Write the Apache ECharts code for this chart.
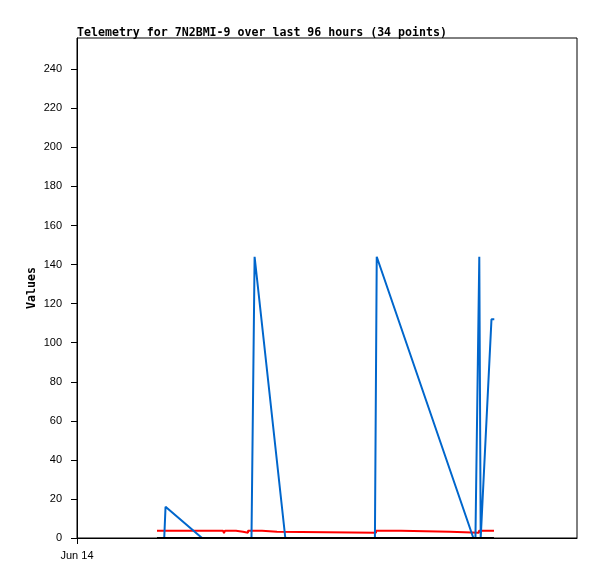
<!DOCTYPE html>
<html>
<head>
<meta charset="utf-8">
<script src="https://cdn.jsdelivr.net/npm/echarts@6/dist/echarts.min.js"></script>
<style>html,body{margin:0;padding:0;background:#fff;}#c{width:597px;height:579px;}</style>
</head>
<body>
<div id="c"></div>
<script>
// x values are hours since the start of the 96-hour window
var titleText = 'Telemetry for 7N2BMI-9 over last 96 hours (34 points)';
var xTickLabels = ['Jun 14'];
var yTicks = [0, 20, 40, 60, 80, 100, 120, 140, 160, 180, 200, 220, 240];

var blueHours  = [15.36, 16.75, 17.0, 24.0, 33.5, 34.1, 40.0, 57.2, 57.55, 76.1, 76.5, 77.24, 77.51, 77.66, 79.58, 80.12];
var blueValues = [0,     0,     16,   0,    0,    144,  0,    0,    144,   0,    0,    144,   0,     0,     112,   112];

// red readings: each value holds until the next reading
var redHours  = [15.36, 28.03, 28.22, 28.42, 30.53, 31.87, 32.83, 35.52, 38.4, 57.41, 62.21, 71.62, 77.18, 80.06];
var redValues = [3.74,  3.74,  2.56,  3.74,  3.2,   2.7,   3.74,  3.2,   2.7,  3.74,  3.2,   2.7,   3.74,  3.74];

var blackHours  = [15.36, 80.06];
var blackValues = [0,     0];

function pairs(xs, ys) { return xs.map(function (x, i) { return [x, ys[i]]; }); }
function holdPairs(xs, ys) {
  var out = [];
  for (var i = 0; i < xs.length; i++) {
    if (i > 0) out.push([xs[i], ys[i - 1]]);
    out.push([xs[i], ys[i]]);
  }
  return out;
}

var chart = echarts.init(document.getElementById('c'), null, {renderer: 'canvas'});
chart.setOption({
  animation: false,
  backgroundColor: '#ffffff',
  title: {
    text: titleText, left: 77, top: 27, padding: 0,
    textStyle: {fontFamily: 'DejaVu Sans Mono', fontWeight: 'bold', fontSize: 11.6, color: '#000'}
  },
  grid: {left: 77, top: 38, right: 20, bottom: 41, show: true, borderColor: '#000', borderWidth: 1, backgroundColor: '#fff'},
  xAxis: {
    type: 'value', min: 0, max: 96,
    axisLine: {show: true, onZero: false, lineStyle: {color: '#000', width: 1}},
    axisTick: {show: true, length: 6, lineStyle: {color: '#000'}, customValues: [0]},
    axisLabel: {customValues: [0], formatter: function () { return xTickLabels[0]; }, color: '#000', fontFamily: 'Liberation Sans', fontSize: 11, margin: 12},
    splitLine: {show: false}
  },
  yAxis: {
    type: 'value', min: 0, max: 256,
    name: 'Values', nameLocation: 'middle', nameGap: 39, nameRotate: 90, nameMoveOverlap: false,
    nameTextStyle: {fontFamily: 'DejaVu Sans Mono', fontWeight: 'bold', fontSize: 11.6, color: '#000'},
    axisLine: {show: true, lineStyle: {color: '#000', width: 1}},
    axisTick: {show: true, length: 6, lineStyle: {color: '#000'}, customValues: yTicks},
    axisLabel: {customValues: yTicks, color: '#000', fontFamily: 'Liberation Sans', fontSize: 11, margin: 15},
    splitLine: {show: false}
  },
  series: [
    {type: 'line', data: holdPairs(redHours, redValues), showSymbol: false, lineStyle: {color: '#ff0000', width: 2}, z: 2},
    {type: 'line', data: pairs(blueHours, blueValues), showSymbol: false, lineStyle: {color: '#0066cc', width: 2}, z: 3},
    {type: 'line', data: pairs(blackHours, blackValues), showSymbol: false, lineStyle: {color: '#000000', width: 2}, z: 4}
  ]
});
</script>
</body>
</html>
